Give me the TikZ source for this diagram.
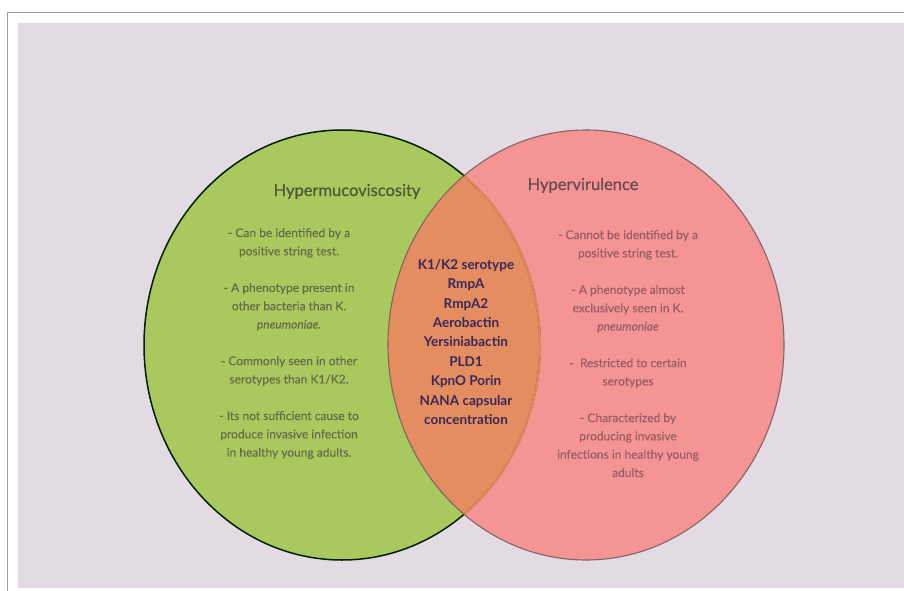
\documentclass[tikz,border=0pt]{standalone}
\usepackage{fontspec}
\setmainfont{Lato}

\definecolor{bgcol}{HTML}{E2DBE3}
\definecolor{mucocol}{HTML}{A9C95E}
\definecolor{virucol}{HTML}{F49494}
\definecolor{bothcol}{HTML}{E48D60}
\definecolor{mucotext}{HTML}{646D49}
\definecolor{mucohead}{HTML}{4E5837}
\definecolor{virutext}{HTML}{985D65}
\definecolor{viruhead}{HTML}{684A51}
\definecolor{bothtext}{HTML}{3A2858}

\begin{document}
\begin{tikzpicture}[x=1pt,y=-1pt,
  head/.style={anchor=base, inner sep=0, font=\fontsize{16.5}{19}\selectfont\addfontfeatures{FakeBold=0.6}},
  body/.style={anchor=north, inner sep=0, align=center, font=\fontsize{12}{18.3}\selectfont\addfontfeatures{FakeBold=0.2}},
  core/.style={anchor=north, inner sep=0, align=center, text=bothtext, font=\fontsize{13.5}{19.4}\selectfont\bfseries}]

\useasboundingbox (0,0) rectangle (904,591);

\draw[gray!75, line width=1] (904,13) -- (7,13) -- (7,591);
\fill[bgcol] (18,23) rectangle (904,588);

\fill[mucocol] (342,345) ellipse [x radius=198, y radius=215];
\fill[virucol] (586,345) ellipse [x radius=198, y radius=215];
\begin{scope}
\clip (342,345) ellipse [x radius=198, y radius=215];
\fill[bothcol] (586,345) ellipse [x radius=198, y radius=215];
\end{scope}

\draw[black!80!green!60!black, line width=1.5] (342,345) ellipse [x radius=198, y radius=215];
\begin{scope}
\clip (586,345) ellipse [x radius=198, y radius=215];
\draw[bothcol!80!brown, line width=2] (342,345) ellipse [x radius=198, y radius=215];
\end{scope}
\draw[black!45!virucol!60!gray, line width=1.1] (586,345) ellipse [x radius=198, y radius=215];

\node (lhead) at (347,196) [head, text=mucohead] {Hypermucoviscosity};
\node (rhead) at (583,190) [head, text=viruhead] {Hypervirulence};

\node (lbody) at (289,228) [body, text=mucotext] {%
- Can be identified by a\\ positive string test.\\[18.3pt]
- A phenotype present in\\ other bacteria than K.\\ \textit{pneumoniae.}\\[18.3pt]
- Commonly seen in other\\ serotypes than K1/K2.\\[18.3pt]
- Its not sufficient cause to\\ produce invasive infection\\ in healthy young adults.};

\node (rbody) at (628,230) [body, text=virutext] {%
- Cannot be identified by a\\ positive string test.\\[18.3pt]
- A phenotype almost\\ exclusively seen in K.\\ \textit{pneumoniae}\\[18.3pt]
-\ \ Restricted to certain\\ serotypes\\[18.3pt]
- Characterized by\\ producing invasive\\ infections in healthy young\\ adults};

\node (both) at (466,259) [core] {%
K1/K2 serotype\\ RmpA\\ RmpA2\\ Aerobactin\\ Yersiniabactin\\ PLD1\\ KpnO Porin\\ NANA capsular\\ concentration};

\end{tikzpicture}
\end{document}
